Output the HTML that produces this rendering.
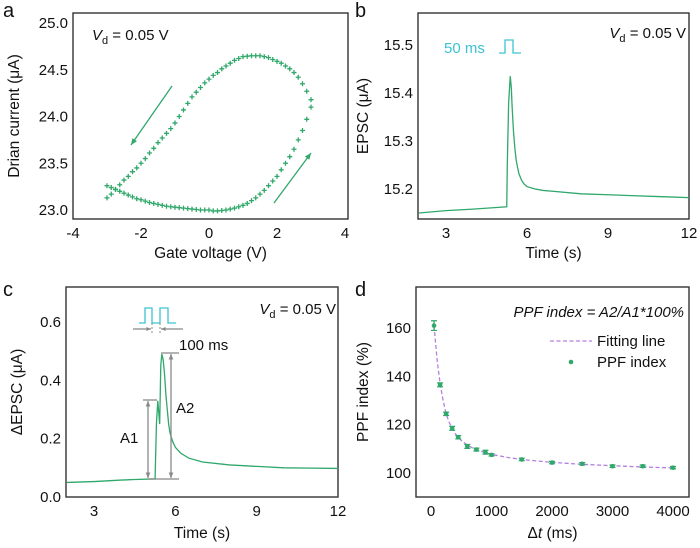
<!DOCTYPE html>
<html><head><meta charset="utf-8">
<style>
html,body{margin:0;padding:0;background:#fff;}
svg{display:block;font-family:"Liberation Sans",Arial,sans-serif;}
text{fill:#111;}
</style></head>
<body>
<svg id="fig" width="700" height="548" viewBox="0 0 700 548" xmlns="http://www.w3.org/2000/svg">
<g id="pa"></g>
<g id="pb"></g>
<g id="pc"></g>
<g id="pd"></g>
</svg>
<script>
// ---- Panel a data ----
const aUpperX = [3,2.875,2.75,2.625,2.5,2.375,2.25,2.125,2,1.875,1.75,1.625,1.5,1.375,1.25,1.125,1,0.875,0.75,0.625,0.5,0.375,0.25,0.125,0,-0.125,-0.25,-0.375,-0.5,-0.625,-0.75,-0.875,-1,-1.125,-1.25,-1.375,-1.5,-1.625,-1.75,-1.875,-2,-2.125,-2.25,-2.375,-2.5,-2.625,-2.75,-2.875,-3];
const aUpperY = [24.18,24.27,24.35,24.42,24.47,24.51,24.54,24.57,24.59,24.61,24.63,24.64,24.65,24.65,24.65,24.645,24.64,24.62,24.6,24.57,24.54,24.51,24.47,24.44,24.4,24.36,24.31,24.26,24.21,24.14,24.07,24.0,23.93,23.87,23.82,23.77,23.72,23.66,23.61,23.55,23.5,23.45,23.41,23.36,23.32,23.27,23.22,23.17,23.13];
const aLowerX = [-3,-2.875,-2.75,-2.625,-2.5,-2.375,-2.25,-2.125,-2,-1.875,-1.75,-1.625,-1.5,-1.375,-1.25,-1.125,-1,-0.875,-0.75,-0.625,-0.5,-0.375,-0.25,-0.125,0,0.125,0.25,0.375,0.5,0.625,0.75,0.875,1,1.125,1.25,1.375,1.5,1.625,1.75,1.875,2,2.125,2.25,2.375,2.5,2.625,2.75,2.875,3];
const aLowerY = [23.26,23.24,23.22,23.2,23.18,23.16,23.14,23.12,23.11,23.095,23.08,23.07,23.06,23.05,23.04,23.035,23.03,23.025,23.02,23.015,23.01,23.005,23.0,23.0,23.0,22.99,22.99,22.995,23.0,23.01,23.02,23.035,23.05,23.07,23.1,23.13,23.17,23.21,23.26,23.31,23.36,23.43,23.5,23.57,23.65,23.75,23.85,23.97,24.1];
const aXTicks = [-4,-2,0,2,4];
const aYTicks = [23.0,23.5,24.0,24.5,25.0];
// ---- Panel b data ----
const bT = [2,3,4,5,5.25,5.27,5.32,5.38,5.42,5.45,5.5,5.55,5.6,5.65,5.7,5.8,5.9,6,6.3,6.6,7,8,9,10,11,12];
const bI = [15.15,15.155,15.158,15.162,15.163,15.25,15.38,15.435,15.41,15.37,15.32,15.285,15.26,15.245,15.232,15.218,15.21,15.205,15.2,15.197,15.195,15.19,15.188,15.186,15.184,15.182];
const bXTicks = [3,6,9,12];
const bYTicks = [15.2,15.3,15.4,15.5];
// ---- Panel c data ----
const cT = [2,3,4,4.5,5.2,5.25,5.3,5.35,5.42,5.46,5.5,5.55,5.6,5.65,5.7,5.75,5.8,5.9,6,6.2,6.5,7,8,9,10,11,12];
const cI = [0.05,0.053,0.058,0.06,0.062,0.062,0.25,0.33,0.25,0.45,0.49,0.47,0.42,0.35,0.3,0.25,0.22,0.19,0.17,0.15,0.133,0.12,0.11,0.105,0.1,0.099,0.098];
const cXTicks = [3,6,9,12];
const cYTicks = [0.0,0.2,0.4,0.6];
// ---- Panel d data ----
const dX = [50,150,250,350,450,600,750,900,1000,1500,2000,2500,3000,3500,4000];
const dY = [161,136.5,124.5,118.5,114.8,111,109.7,108.6,107.5,105.6,104.3,103.8,102.8,102.8,102.2];
const dErr = [2,0.8,0.7,0.8,0.7,0.8,0.6,0.8,0.5,0.5,0.5,0.5,0.5,0.5,0.5];
const dFitX = [50,100,150,200,250,300,350,400,450,500,600,700,800,900,1000,1250,1500,2000,2500,3000,3500,4000];
const dFitY = [161,147,137,130,124.5,121,118.5,116.3,114.8,113.5,111.5,110.2,109.2,108.4,107.7,106.5,105.6,104.4,103.6,103.0,102.5,102.1];
const dXTicks = [0,1000,2000,3000,4000];
const dYTicks = [100,120,140,160];

const NS = "http://www.w3.org/2000/svg";
const GREEN = "#2fa86a", CYAN = "#3cc3d2", GRAY = "#888", PURPLE = "#b37fe0";
function mk(parent, tag, attrs, txt){
  const e = document.createElementNS(NS, tag);
  for (const k in attrs) e.setAttribute(k, attrs[k]);
  if (txt !== undefined) e.textContent = txt;
  parent.appendChild(e);
  return e;
}
function scale(d0,d1,r0,r1){ return v => r0 + (v-d0)/(d1-d0)*(r1-r0); }

function axes(g, box, sx, sy, xt, yt, xfmt, yfmt, xtitle, ytitle, ytx, xty, letter, lx, ly){
  const r = mk(g,'rect',{x:box.l,y:box.t,width:box.r-box.l,height:box.b-box.t,fill:'none',stroke:'#333','stroke-width':1.4});
  
  
  xt.forEach(v=>{
    const x = sx(v);
    const t = mk(g,'text',{x:x,y:box.b+19,'text-anchor':'middle','font-size':15},xfmt(v));
    
    
  });
  yt.forEach(v=>{
    const y = sy(v);
    const t = mk(g,'text',{x:box.l-5,y:y+5,'text-anchor':'end','font-size':15},yfmt(v));
    
    
  });
  const xt1 = mk(g,'text',{x:(box.l+box.r)/2,y:xty,'text-anchor':'middle','font-size':15.5});
  xt1.innerHTML = xtitle;
  
  
  const cy=(box.t+box.b)/2;
  const yt1 = mk(g,'text',{x:ytx,y:cy,'text-anchor':'middle','font-size':15.5,transform:`rotate(-90 ${ytx} ${cy})`});
  yt1.innerHTML = ytitle;
  
  
  const L = mk(g,'text',{x:lx,y:ly,'font-size':20},letter);
  
  
}
function vd(g,x,y,anchor){
  const t = mk(g,'text',{x:x,y:y,'font-size':15,'text-anchor':anchor||'start'});
  t.innerHTML = '<tspan font-style="italic">V</tspan><tspan font-size="11" dy="4">d</tspan><tspan dy="-4"> = 0.05 V</tspan>';
  
  
}
function pathFrom(xs,ys,sx,sy){ return xs.map((v,i)=>(i?'L':'M')+sx(v).toFixed(2)+','+sy(ys[i]).toFixed(2)).join(' '); }
function arrowLine(g,x1,y1,x2,y2,color,name,hs){
  hs = hs||7;
  const l = mk(g,'line',{x1:x1,y1:y1,x2:x2,y2:y2,stroke:color,'stroke-width':1.3});
  
  
  const a = Math.atan2(y2-y1,x2-x1);
  const p = [[x2,y2],[x2-hs*Math.cos(a-0.4),y2-hs*Math.sin(a-0.4)],[x2-hs*Math.cos(a+0.4),y2-hs*Math.sin(a+0.4)]];
  const h = mk(g,'polygon',{points:p.map(q=>q.join(',')).join(' '),fill:color});
  
  
}

// ---- Panel a ----
(function(){
  const g = document.getElementById('pa');
  const box = {l:73,r:348,t:13,b:219};
  const sx = scale(-4,4,73,345), sy = scale(23,25,210,23);
  axes(g,box,sx,sy,aXTicks,aYTicks,v=>String(v),v=>v.toFixed(1),'Gate voltage (V)','Drian current (μA)',19,258,'a',3,17);
  vd(g,92,40);
  function cross(x,y){
    const c = mk(g,'path',{d:`M${x-2.5},${y}H${x+2.5}M${x},${y-2.5}V${y+2.5}`,stroke:GREEN,'stroke-width':1.3,fill:'none'});
    
    
  }
  aUpperX.forEach((v,i)=>cross(sx(v),sy(aUpperY[i])));
  aLowerX.forEach((v,i)=>cross(sx(v),sy(aLowerY[i])));
  arrowLine(g,172,86,131,145,GREEN,'sweep-arrow-backward');
  arrowLine(g,274,203,311,153,GREEN,'sweep-arrow-forward');
})();

// ---- Panel b ----
(function(){
  const g = document.getElementById('pb');
  const box = {l:418,r:689,t:13,b:219};
  const sx = scale(2,12,419,689), sy = scale(15.2,15.5,189,45);
  axes(g,box,sx,sy,bXTicks,bYTicks,v=>String(v),v=>v.toFixed(1),'Time (s)','EPSC (μA)',368,258,'b',355,17);
  vd(g,686,38,'end');
  const p = mk(g,'path',{d:pathFrom(bT,bI,sx,sy),fill:'none',stroke:GREEN,'stroke-width':1.3});
  
  
  const t = mk(g,'text',{x:444,y:53,'font-size':15,fill:CYAN,style:'fill:'+CYAN},'50 ms');
  
  
  const pu = mk(g,'path',{d:'M499,53H505V40H513V53H521',fill:'none',stroke:CYAN,'stroke-width':1.3});
  
  
})();

// ---- Panel c ----
(function(){
  const g = document.getElementById('pc');
  const box = {l:66,r:338,t:287,b:497};
  const sx = scale(2,12,67,338), sy = scale(0,0.6,497,322);
  axes(g,box,sx,sy,cXTicks,cYTicks,v=>String(v),v=>v.toFixed(1),'Time (s)','ΔEPSC (μA)',22,538,'c',3,296);
  vd(g,336,314,'end');
  const p = mk(g,'path',{d:pathFrom(cT,cI,sx,sy),fill:'none',stroke:GREEN,'stroke-width':1.3});
  
  
  const ann = [
    ['M143,400H157','a1-top'],['M148,479H179','baseline-marker'],['M161,353H179','a2-top']
  ];
  ann.forEach(a=>{const e=mk(g,'path',{d:a[0],stroke:GRAY,'stroke-width':1.3,fill:'none'});
    
    });
  arrowLine(g,148,440,148,401,GRAY,'a1-arrow-up',6);
  arrowLine(g,148,440,148,478,GRAY,'a1-arrow-down',6);
  arrowLine(g,171,415,171,354,GRAY,'a2-arrow-up',6);
  arrowLine(g,171,415,171,478,GRAY,'a2-arrow-down',6);
  const a1 = mk(g,'text',{x:120,y:443,'font-size':15},'A1');
  
  
  const a2 = mk(g,'text',{x:176,y:413,'font-size':15},'A2');
  
  
  const ms = mk(g,'text',{x:179,y:350,'font-size':15},'100 ms');
  
  
  const pp = mk(g,'path',{d:'M139,323H145V308H152V323H160V308H168V323H176',fill:'none',stroke:CYAN,'stroke-width':1.3});
  
  
  arrowLine(g,133,329,151,329,GRAY,'interval-arrow-right',5);
  arrowLine(g,183,329,161,329,GRAY,'interval-arrow-left',5);
  const dl = mk(g,'path',{d:'M152,323V334M160,323V334',stroke:GRAY,'stroke-width':1,'stroke-dasharray':'2,2',fill:'none'});
  
  
})();

// ---- Panel d ----
(function(){
  const g = document.getElementById('pd');
  const box = {l:416,r:689,t:287,b:497};
  const sx = scale(0,4000,431,673), sy = scale(100,160,473,328);
  axes(g,box,sx,sy,dXTicks,dYTicks,v=>String(v),v=>String(v),'Δ<tspan font-style="italic">t</tspan> (ms)','PPF index (%)',368,538,'d',355,296);
  const fit = mk(g,'path',{d:pathFrom(dFitX,dFitY,sx,sy),fill:'none',stroke:PURPLE,'stroke-width':1.3,'stroke-dasharray':'4,2.5'});
  
  
  dX.forEach((v,i)=>{
    const x=sx(v), y1=sy(dY[i]+dErr[i]), y2=sy(dY[i]-dErr[i]);
    const e = mk(g,'path',{d:`M${x},${y1}V${y2}M${x-3},${y1}H${x+3}M${x-3},${y2}H${x+3}`,stroke:GREEN,'stroke-width':1.2,fill:'none'});
    
    
    const c = mk(g,'circle',{cx:x,cy:sy(dY[i]),r:2.3,fill:GREEN});
    
    
  });
  const f = mk(g,'text',{x:684,y:317,'font-size':15,'font-style':'italic','text-anchor':'end'},'PPF index = A2/A1*100%');
  
  
  const ll = mk(g,'line',{x1:550,x2:592,y1:341,y2:341,stroke:PURPLE,'stroke-width':1.3,'stroke-dasharray':'4,2.5'});
  
  
  const lt = mk(g,'text',{x:597,y:346,'font-size':15},'Fitting line');
  
  
  const lc = mk(g,'circle',{cx:571,cy:362,r:2.3,fill:GREEN});
  
  
  const lt2 = mk(g,'text',{x:597,y:367,'font-size':15},'PPF index');
  
  
})();
</script>
</body></html>
